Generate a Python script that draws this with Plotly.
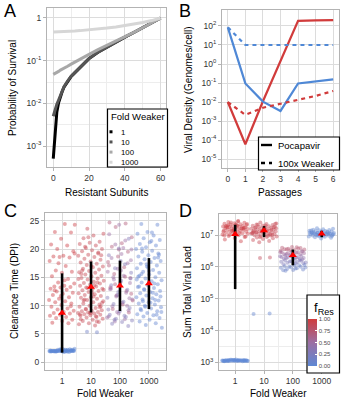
import math
import plotly.graph_objects as go

W, H = 341, 400
FONT = "Liberation Sans, Arial, sans-serif"

# ---------------- Panel A: probability of survival ----------------
subunits = [0, 1, 2, 3, 4, 5, 6, 8, 10, 12, 15, 20, 25, 30, 35, 40, 45, 50, 55, 60]
surv_fold1 = [5.1e-4, 2.3e-3, 6.3e-3, 1.05e-2, 1.45e-2, 1.9e-2, 2.4e-2, 3.3e-2, 4.3e-2, 5.2e-2,
              6.9e-2, 0.112, 0.158, 0.209, 0.275, 0.355, 0.457, 0.589, 0.759, 1.0]
surv_fold10 = [5.0e-3, 7.2e-3, 9.5e-3, 1.2e-2, 1.55e-2, 1.95e-2, 2.45e-2, 3.35e-2, 4.35e-2, 5.25e-2,
               6.95e-2, 0.113, 0.159, 0.21, 0.276, 0.356, 0.458, 0.59, 0.76, 1.0]
surv_fold100 = [0.0479, 0.0501, 0.0537, 0.0562, 0.0603, 0.0631, 0.0661, 0.0741, 0.0832, 0.0933,
                0.110, 0.141, 0.182, 0.229, 0.282, 0.357, 0.459, 0.591, 0.761, 1.0]
surv_fold1000 = [0.47, 0.471, 0.472, 0.474, 0.476, 0.478, 0.48, 0.485, 0.49, 0.496,
                 0.506, 0.525, 0.55, 0.58, 0.617, 0.662, 0.717, 0.785, 0.87, 1.0]
fold_labels = ["1", "10", "100", "1000"]
grey_levels = ["#000000", "#555555", "#a8a8a8", "#d6d6d6"]

# ---------------- Panel B: viral density over passages ----------------
passages = [0, 1, 2, 3, 4, 5, 6]
poca_resistant = [1.0e-2, 6.0e-5, 1.1e-2, 1.6, 185, 195, 205]
poca_sensitive = [85, 9.5e-2, 1.05e-2, 3.4e-3, 9.5e-2, 0.125, 0.155]
weak_resistant = [1.0e-2, 2.1e-3, 5.0e-3, 8.0e-3, 1.25e-2, 2.1e-2, 3.8e-2]
weak_sensitive = [85, 10, 10, 10, 10, 10, 10]
RED = "#d13b3b"
BLUE = "#4f88d6"

# ---------------- Panel C: clearance time (DPI) ----------------
fold_cats = [1, 10, 100, 1000]
clear_f1_sens = [1.9, 2.0, 2.1, 2.0, 1.9, 2.2, 2.0, 2.1, 1.8, 2.0, 2.3, 2.0, 1.9, 2.1, 2.0, 2.2, 1.9,
                 2.0, 2.1, 2.0, 2.4, 1.9, 2.0, 2.1, 2.2, 2.0, 1.9, 2.0, 2.1, 2.3, 2.0, 1.8, 2.1, 2.0,
                 2.2, 1.9, 2.0, 2.1, 2.0, 1.9, 2.2, 2.0, 2.1, 1.9, 2.0, 2.3, 2.1, 2.0, 1.9, 2.0]
clear_f1_res = [24.3, 24.4, 23.0, 22.9, 21.8, 20.8, 20.6, 20.0, 19.6, 18.8, 18.7, 18.5, 18.6, 17.9,
                17.0, 16.2, 16.0, 15.8, 15.2, 14.7, 14.1, 13.9, 13.5, 13.4, 13.3, 13.2, 13.0, 12.8,
                12.5, 12.3, 12.1, 11.9, 11.5, 11.2, 11.0, 10.8, 10.6, 10.4, 10.1, 9.8, 9.5, 9.3,
                9.1, 8.9, 8.7, 8.6, 8.4, 8.2, 8.0, 7.8, 7.5, 7.3, 7.0, 6.9, 17.5, 19.2, 14.5, 12.7,
                9.9, 11.7]
clear_f10_res = [23.6, 22.7, 22.4, 21.9, 21.3, 21.1, 20.9, 20.6, 20.2, 20.0, 19.8, 19.6, 19.2, 19.0,
                 18.8, 18.6, 18.3, 18.1, 17.8, 17.6, 17.4, 17.2, 16.9, 16.8, 16.5, 16.4, 16.1, 15.9,
                 15.8, 15.5, 15.3, 15.2, 14.9, 14.8, 14.6, 14.4, 14.2, 14.0, 13.9, 13.7, 13.5, 13.4,
                 13.2, 13.0, 12.9, 12.7, 12.6, 12.4, 12.2, 12.0, 11.9, 11.7, 11.5, 11.4, 11.2, 11.0,
                 10.8, 10.6, 10.4, 10.2, 10.0, 9.8, 9.6, 9.4, 9.2, 9.1, 9.0, 8.9, 8.8, 8.7, 8.6, 8.5,
                 8.4, 8.3, 8.2, 8.0, 7.9, 7.7, 7.5, 7.3, 7.1, 6.9, 6.7, 6.5, 20.4, 18.9, 17.0, 15.6,
                 14.1, 13.1, 12.8, 11.6, 10.9, 9.7, 8.75, 8.45, 8.15, 9.35, 10.5, 12.3, 16.2, 19.4,
                 22.1, 14.7, 13.6, 11.1, 9.9, 8.65, 7.6, 7.2]
clear_f10_sens = [5.3, 5.4]
clear_f100_hi = [24.7, 24.5, 23.9, 22.1, 21.0, 20.4, 19.5, 18.7, 17.7, 16.8, 15.6, 14.9, 14.1, 13.2,
                 12.6, 11.8, 10.9, 10.2, 9.4, 8.8, 19.9, 17.1, 15.1, 13.8, 12.1]
clear_f100_mid = [24.3, 22.6, 21.5, 20.8, 19.9, 19.1, 18.4, 17.5, 16.5, 16.0, 15.3, 14.6, 14.0, 13.5,
                  12.9, 12.3, 11.6, 11.1, 10.5, 9.9, 9.2, 8.6, 8.1, 7.6, 7.2, 18.0, 16.2, 13.0, 10.0,
                  8.9, 7.9, 20.2, 15.0, 11.3]
clear_f100_lo = [21.8, 20.1, 18.9, 17.3, 16.6, 15.8, 14.4, 13.6, 12.8, 11.9, 11.4, 10.7, 10.3, 9.6,
                 9.0, 8.4, 8.0, 7.7, 7.4, 7.1, 6.8, 6.4, 12.4, 9.3, 8.2, 7.5, 14.8, 17.9]
clear_f1000 = [24.4, 24.3, 23.0, 22.7, 22.4, 21.9, 21.6, 21.2, 20.9, 20.6, 20.3, 20.0, 19.7, 19.5,
               19.2, 18.9, 18.7, 18.4, 18.2, 17.9, 17.7, 17.4, 17.1, 16.9, 16.6, 16.3, 16.0, 15.8,
               15.5, 15.3, 15.0, 14.8, 14.5, 14.3, 14.1, 13.8, 13.6, 13.3, 13.1, 12.9, 12.6, 12.4,
               12.2, 12.0, 11.8, 11.5, 11.3, 11.1, 10.9, 10.6, 10.4, 10.2, 10.0, 9.7, 9.5, 9.2, 9.0,
               8.7, 8.5, 8.3, 8.1, 7.8, 7.5, 7.2, 6.9, 6.6, 6.1, 22.9, 20.1, 18.5, 16.7, 15.1, 13.9,
               12.8, 11.6, 10.5, 9.4, 8.4, 17.3, 14.6, 12.3, 10.8, 19.0, 16.1, 13.4, 11.0, 9.8, 8.9,
               21.4, 15.6]
clear_mean = [8.7, 13.3, 13.5, 13.9]
clear_sd = [7.0, 4.5, 4.45, 4.5]

# ---------------- Panel D: summed total viral load ----------------
load_f1_res = [2.75e7, 2.58e7, 2.41e7, 2.33e7, 2.26e7, 2.19e7, 2.12e7, 2.08e7, 2.01e7, 1.97e7,
               1.92e7, 1.88e7, 1.84e7, 1.81e7, 1.77e7, 1.73e7, 1.70e7, 1.66e7, 1.62e7, 1.59e7,
               1.55e7, 1.52e7, 1.48e7, 1.45e7, 1.41e7, 1.38e7, 1.34e7, 1.30e7, 1.26e7, 1.22e7,
               1.18e7, 1.13e7, 1.09e7, 1.04e7, 9.9e6, 9.3e6, 8.7e6, 8.0e6, 7.2e6, 6.4e6,
               2.48e7, 2.20e7, 1.95e7, 1.75e7, 1.60e7, 1.43e7, 1.29e7, 1.15e7, 1.01e7, 8.9e6,
               2.15e7, 1.86e7, 1.57e7, 1.36e7, 1.11e7, 2.64e7, 2.04e7, 1.69e7, 1.32e7, 9.6e6]
load_f1_sens = [1120, 1150, 1100, 1180, 1130, 1090, 1160, 1210, 1140, 1110, 1170, 1080, 1190, 1125,
                1135, 1155, 1105, 1145, 1165, 1115, 1200, 1095, 1175, 1130, 1150, 1185, 1120, 1140,
                1110, 1160, 1230, 1100, 1170, 1125, 1145, 1135, 1155, 1115, 1190, 1105]
load_f10_res = [2.45e7, 2.31e7, 2.22e7, 2.14e7, 2.07e7, 2.00e7, 1.94e7, 1.89e7, 1.83e7, 1.78e7,
                1.74e7, 1.69e7, 1.65e7, 1.61e7, 1.57e7, 1.53e7, 1.49e7, 1.46e7, 1.42e7, 1.39e7,
                1.35e7, 1.32e7, 1.29e7, 1.26e7, 1.23e7, 1.20e7, 1.17e7, 1.14e7, 1.11e7, 1.08e7,
                1.05e7, 1.02e7, 9.9e6, 9.6e6, 9.3e6, 9.0e6, 8.7e6, 8.3e6, 7.9e6, 7.5e6, 7.0e6,
                6.5e6, 5.9e6, 2.27e7, 1.98e7, 1.71e7, 1.50e7, 1.30e7, 1.12e7, 9.4e6, 2.10e7,
                1.80e7, 1.55e7, 1.28e7, 1.06e7, 8.5e6, 1.63e7, 1.40e7, 1.21e7, 1.00e7, 1.37e7,
                1.19e7]
load_f10_res_low = [1.95e6, 1.9e6]
load_f10_sens = [3.3e4, 3.4e4]
load_f100_75 = [4.2e6, 4.0e6, 3.8e6, 3.7e6, 3.5e6, 3.4e6, 3.6e6, 3.9e6, 3.3e6, 3.2e6, 4.1e6, 3.55e6]
load_f100_55 = [3.1e6, 3.0e6, 2.9e6, 2.8e6, 2.7e6, 2.65e6, 2.6e6, 2.5e6, 2.45e6, 2.4e6, 2.85e6,
                2.75e6, 2.55e6, 3.05e6, 2.35e6]
load_f100_40 = [2.3e6, 2.2e6, 2.1e6, 2.05e6, 2.0e6, 1.95e6, 1.9e6, 1.85e6, 1.8e6, 1.75e6, 2.25e6,
                2.15e6, 1.98e6, 1.88e6, 1.7e6]
load_f100_28 = [1.65e6, 1.6e6, 1.55e6, 1.5e6, 1.45e6, 1.4e6, 1.35e6, 1.3e6, 1.25e6, 1.2e6, 1.62e6,
                1.48e6, 1.38e6, 1.28e6]
load_f100_12 = [1.15e6, 1.1e6, 1.05e6, 1.0e6, 9.7e5, 9.3e5, 9.0e5, 8.6e5, 8.3e5, 8.0e5, 7.8e5,
                1.12e6, 1.02e6, 9.5e5, 8.8e5, 7.6e5]
load_f1000 = [1.62e7, 1.56e7, 1.51e7, 1.47e7, 1.43e7, 1.40e7, 1.37e7, 1.34e7, 1.31e7, 1.28e7,
              1.25e7, 1.23e7, 1.20e7, 1.18e7, 1.16e7, 1.14e7, 1.12e7, 1.10e7, 1.08e7, 1.06e7,
              1.04e7, 1.02e7, 1.00e7, 9.8e6, 9.6e6, 9.4e6, 9.2e6, 9.0e6, 8.8e6, 8.5e6, 8.2e6,
              7.8e6, 1.39e7, 1.26e7, 1.15e7, 1.05e7, 9.7e6, 1.21e7, 1.11e7, 1.03e7, 1.17e7,
              1.09e7, 1.01e7, 9.3e6, 1.29e7, 1.13e7, 1.07e7, 9.9e6]
load_mean = [1.06e7, 1.38e7, 2.31e6, 1.1e7]
load_sd = [1.04e7, 5.2e6, 1.19e6, 2.5e6]

# ---------------- helpers ----------------
def px(x):
    return x / W


def py(y):
    return 1 - y / H


def jitter(n, phase, half_width=0.45):
    """Deterministic spread of points around a category (in decades)."""
    return [(((k + 1) * 0.6180339887 + phase) % 1.0 - 0.5) * 2 * half_width for k in range(n)]


def axis(**kw):
    base = dict(showline=True, mirror=True, linecolor="#b3b3b3", linewidth=1,
                ticks="outside", ticklen=3, tickcolor="#b3b3b3", tickwidth=1,
                tickfont=dict(family=FONT, size=8.5, color="#333333"),
                showgrid=True, gridcolor="#dcdcdc", gridwidth=1, zeroline=False,
                fixedrange=True, layer="below traces")
    base.update(kw)
    return base


MINOR = dict(showgrid=True, gridcolor="#ededed", gridwidth=0.6, ticks="")

fig = go.Figure()

# ---- A traces
for vals, col in zip([surv_fold1, surv_fold10, surv_fold100, surv_fold1000], grey_levels):
    fig.add_trace(go.Scatter(x=subunits, y=vals, mode="lines", xaxis="x", yaxis="y",
                             line=dict(color=col, width=3), hoverinfo="skip"))

# ---- B traces
for vals, col, dash in [(poca_resistant, RED, "solid"), (poca_sensitive, BLUE, "solid"),
                        (weak_resistant, RED, "4px,4px"), (weak_sensitive, BLUE, "4px,4px")]:
    fig.add_trace(go.Scatter(x=passages, y=vals, mode="lines", xaxis="x2", yaxis="y2",
                             line=dict(color=col, width=2.2, dash=dash), hoverinfo="skip"))


def add_points(sets, xa, ya):
    for i, (fold, fres, vals) in enumerate(sets):
        xs = [10 ** (math.log10(fold) + j) for j in jitter(len(vals), 0.37 * i)]
        fig.add_trace(go.Scatter(
            x=xs, y=vals, mode="markers", xaxis=xa, yaxis=ya, hoverinfo="skip",
            marker=dict(size=4, color=[fres] * len(vals), coloraxis="coloraxis",
                        opacity=0.45, line=dict(width=0))))


def add_summary(means, sds, xa, ya):
    ex, ey = [], []
    for f, m, s in zip(fold_cats, means, sds):
        ex += [f, f, None]
        ey += [m - s, m + s, None]
    fig.add_trace(go.Scatter(x=ex, y=ey, mode="lines", xaxis=xa, yaxis=ya,
                             line=dict(color="black", width=2.6), hoverinfo="skip"))
    fig.add_trace(go.Scatter(x=fold_cats, y=means, mode="markers", xaxis=xa, yaxis=ya,
                             marker=dict(symbol="triangle-up", color="#ff0000", size=7),
                             hoverinfo="skip"))


# ---- C traces
add_points([(1, 0.0, clear_f1_sens), (1, 0.95, clear_f1_res), (10, 0.9, clear_f10_res),
            (10, 0.15, clear_f10_sens), (100, 0.7, clear_f100_hi), (100, 0.5, clear_f100_mid),
            (100, 0.3, clear_f100_lo), (1000, 0.04, clear_f1000)], "x3", "y3")
add_summary(clear_mean, clear_sd, "x3", "y3")

# ---- D traces
add_points([(1, 0.95, load_f1_res), (1, 0.0, load_f1_sens), (10, 0.9, load_f10_res),
            (10, 0.85, load_f10_res_low), (10, 0.05, load_f10_sens), (100, 0.75, load_f100_75),
            (100, 0.55, load_f100_55), (100, 0.4, load_f100_40), (100, 0.28, load_f100_28),
            (100, 0.12, load_f100_12), (1000, 0.03, load_f1000)], "x4", "y4")
add_summary(load_mean, load_sd, "x4", "y4")

# ---------------- axes ----------------
sup = lambda e: "1" if e == 0 else "10<sup>%d</sup>" % e

fig.update_layout(
    xaxis=axis(domain=[px(47), px(166)], range=[-3.5, 63], anchor="y",
               tickvals=[0, 20, 40, 60], minor=dict(tickvals=[10, 30, 50], **MINOR)),
    yaxis=axis(domain=[py(167), py(8)], type="log", range=[-3.49, 0.234], anchor="x",
               tickvals=[1e-3, 1e-2, 1e-1, 1], ticktext=[sup(e) for e in [-3, -2, -1, 0]],
               minor=dict(tickvals=[10 ** -2.5, 10 ** -1.5, 10 ** -0.5], **MINOR)),
    xaxis2=axis(domain=[px(222), px(339)], range=[-0.33, 6.33], anchor="y2",
                tickvals=passages),
    yaxis2=axis(domain=[py(168), py(10)], type="log", range=[-5.47, 2.84], anchor="x2",
                tickvals=[10.0 ** e for e in range(-5, 3)],
                ticktext=["10<sup>%d</sup>" % e for e in range(-5, 3)]),
    xaxis3=axis(domain=[px(45), px(166)], type="log", range=[-0.59, 3.59], anchor="y3",
                tickvals=fold_cats, ticktext=fold_labels,
                minor=dict(tickvals=[10 ** 0.5, 10 ** 1.5, 10 ** 2.5], **MINOR)),
    yaxis3=axis(domain=[py(370), py(213)], range=[-1.36, 26.36], anchor="x3",
                tickvals=[0, 5, 10, 15, 20, 25],
                minor=dict(tickvals=[2.5, 7.5, 12.5, 17.5, 22.5], **MINOR)),
    xaxis4=axis(domain=[px(219), px(337)], type="log", range=[-0.56, 3.53], anchor="y4",
                tickvals=fold_cats, ticktext=fold_labels,
                minor=dict(tickvals=[10 ** 0.5, 10 ** 1.5, 10 ** 2.5], **MINOR)),
    yaxis4=axis(domain=[py(370), py(214)], type="log", range=[2.76, 7.66], anchor="x4",
                tickvals=[10.0 ** e for e in range(3, 8)],
                ticktext=["10<sup>%d</sup>" % e for e in range(3, 8)],
                minor=dict(tickvals=[10 ** 3.5, 10 ** 4.5, 10 ** 5.5, 10 ** 6.5], **MINOR)),
    coloraxis=dict(
        cmin=0, cmax=1,
        colorscale=[[0, "#5e88d4"], [0.5, "#9c6fa3"], [1, "#d03c3c"]],
        colorbar=dict(thickness=9, thicknessmode="pixels", len=47, lenmode="pixels",
                      x=px(308), xanchor="left", y=py(366), yanchor="bottom",
                      xpad=0, ypad=0, outlinewidth=0,
                      tickvals=[0, 0.25, 0.5, 0.75, 1],
                      ticktext=["0.00", "0.25", "0.50", "0.75", "1.00"],
                      ticks="inside", ticklen=2, tickcolor="white",
                      tickfont=dict(family=FONT, size=6, color="#4d4d4d"))),
)

# ---------------- text ----------------
annotations = []


def text(x, y, s, size=10, angle=0, xanchor="center", color="black", align="center"):
    annotations.append(dict(x=px(x), y=py(y), xref="paper", yref="paper", text=s,
                            showarrow=False, textangle=angle, xanchor=xanchor, align=align,
                            yanchor="middle", borderpad=0,
                            font=dict(family=FONT, size=size, color=color)))


for letter, x, y in [("A", 10, 11), ("B", 185, 11), ("C", 10, 211), ("D", 185, 211)]:
    text(x, y, letter, size=18)

text(13, 88, "Probability of Survival", angle=-90)
text(106, 192, "Resistant Subunits")
text(188, 89, "Viral Density (Genomes/cell)", angle=-90)
text(280, 192, "Passages")
text(14, 291, "Clearance Time (DPI)", angle=-90)
text(105, 393, "Fold Weaker")
text(187, 292, "Sum Total Viral Load", angle=-90)
text(278, 393, "Fold Weaker")

shapes = []


def rect(x0, y0, x1, y1, fill="white", line="black", lw=1):
    shapes.append(dict(type="rect", xref="paper", yref="paper", x0=px(x0), x1=px(x1),
                       y0=py(y1), y1=py(y0), fillcolor=fill, line=dict(color=line, width=lw),
                       layer="above"))


# legend for A: one multi-line label block, keys aligned to its 1.3em line pitch
LEG_SIZE = 7.8
pitch = 1.3 * LEG_SIZE
first = 131.8
rect(107.5, 109, 167.5, 167, lw=1.2)
text(110, 116, "Fold Weaker", size=9.5, xanchor="left")
text(120, first + 1.5 * pitch, "<br>".join(fold_labels), size=LEG_SIZE, xanchor="left",
     align="left")
for i, col in enumerate(grey_levels):
    yy = first + pitch * i
    rect(109.5, yy - 1.5, 112.5, yy + 1.5, fill=col, line=col, lw=0)

# legend for B
rect(258.5, 137, 339.5, 170, lw=1.2)
for yy, lab, dash in [(145, "Pocapavir", "solid"), (163, "100x Weaker", "4px,4px")]:
    shapes.append(dict(type="line", xref="paper", yref="paper", x0=px(261), x1=px(272),
                       y0=py(yy), y1=py(yy), line=dict(color="black", width=2.4, dash=dash),
                       layer="above"))
    text(277, yy, lab, size=9.5, xanchor="left")

# colour legend for D
rect(307, 295, 339.5, 373, lw=1.2)
text(313, 308, "f<sub>Res</sub>", size=13, xanchor="left")

fig.update_layout(
    width=W, height=H, margin=dict(l=0, r=0, t=0, b=0),
    paper_bgcolor="white", plot_bgcolor="white", showlegend=False,
    annotations=annotations, shapes=shapes, font=dict(family=FONT),
)

fig.write_html("out.html")
